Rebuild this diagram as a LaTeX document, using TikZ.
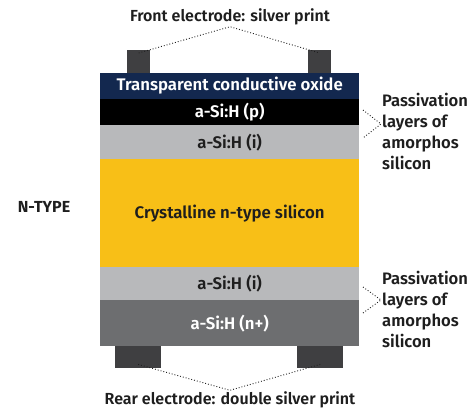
\documentclass[tikz,border=0pt]{standalone}
\usepackage{fontspec}
\setmainfont{Fira Sans}[UprightFont=* SemiBold, BoldFont=* Bold]
\usepackage{tikz}

\definecolor{tco}{HTML}{13284F}
\definecolor{lgray}{HTML}{B8B9BB}
\definecolor{dgray}{HTML}{6D6E70}
\definecolor{csi}{HTML}{F8BF17}
\definecolor{elec}{HTML}{3F3F41}
\definecolor{ink}{HTML}{1E1E1E}

\begin{document}
\begin{tikzpicture}[x=1pt, y=-1pt,
    layer/.style={minimum width=259pt, inner sep=0pt, anchor=north west, font=\fontsize{16.8}{18}\selectfont},
    elec/.style={fill=elec, inner sep=0pt, anchor=north west},
    lbl/.style={font=\fontsize{16}{18}\selectfont, text=ink},
    side/.style={lbl, align=left, anchor=west, inner sep=1pt, font=\fontsize{16.6}{21}\selectfont},
    dots/.style={dotted, line width=0.9pt, draw=ink}]
  \useasboundingbox (0,0) rectangle (476,413);

  \node [layer, fill=tco, text=white, minimum height=26.3pt] (TCO) at (100,72.7) {Transparent conductive oxide};
  \node [layer, fill=black, text=white, minimum height=26pt] (P) at (100,99) {a-Si:H (p)};
  \node [layer, fill=lgray, text=ink, minimum height=34pt] (I1) at (100,125) {a-Si:H (i)};
  \node [layer, fill=csi, text=ink, minimum height=108pt] (C) at (100,159) {Crystalline n-type silicon};
  \node [layer, fill=lgray, text=ink, minimum height=33pt] (I2) at (100,267) {a-Si:H (i)};
  \node [layer, fill=dgray, text=white, minimum height=46pt] (N) at (100,300) {a-Si:H (n+)};

  \node [elec, minimum width=23pt, minimum height=22.7pt] (FL) at (127,50) {};
  \node [elec, minimum width=23pt, minimum height=22.7pt] (FR) at (308,50) {};
  \node [elec, minimum width=46pt, minimum height=22pt] (RL) at (115,346) {};
  \node [elec, minimum width=46pt, minimum height=22pt] (RR) at (297,346) {};

  \node [lbl] (front) at (230,17) {Front electrode: silver print};
  \node [lbl] (rear) at (230,400) {Rear electrode: double silver print};
  \node [lbl, font=\fontsize{16}{18}\selectfont\bfseries] (type) at (44,207) {N-TYPE};
  \node [side] (pasT) at (381,131) {Passivation\\layers of\\amorphos\\silicon};
  \node [side] (pasB) at (381,309) {Passivation\\layers of\\amorphos\\silicon};

  \draw [dots] ([yshift=-3]FL.north) -- ([yshift=2]front.south) -- ([yshift=-3]FR.north);
  \draw [dots] ([yshift=4]RL.south) -- ([yshift=-2]rear.north) -- ([yshift=4]RR.south);

  \coordinate (aT1) at (363,110);
  \coordinate (aT2) at (363,138);
  \coordinate (aB1) at (363,287);
  \coordinate (aB2) at (363,313);
  \draw [dots] (aT1) -- (pasT.west |- 0,124) -- (aT2);
  \draw [dots] (aB1) -- (pasB.west |- 0,300) -- (aB2);
\end{tikzpicture}
\end{document}
